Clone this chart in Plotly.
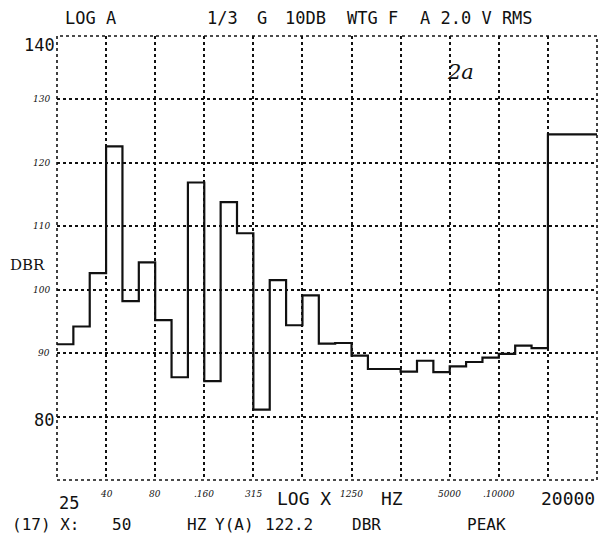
import plotly.graph_objects as go

# ---- data ----
band_labels = ["25", "31.5", "40", "50", "63", "80", "100", "125", "160", "200",
               "250", "315", "400", "500", "630", "800", "1000", "1250", "1600", "2000",
               "2500", "3150", "4000", "5000", "6300", "8000", "10000", "12500", "16000", "20000"]
band_levels = [91.4, 94.2, 102.6, 122.6, 98.2, 104.3, 95.2, 86.2, 116.9, 85.6,
               113.8, 108.9, 81.1, 101.5, 94.4, 99.1, 91.5, 91.6, 89.6, 87.5,
               87.5, 87.1, 88.8, 87.0, 87.9, 88.6, 89.3, 89.9, 91.2, 90.8]
overall_label = "A"
overall_level = 124.5

x_tick_text = ["40", "80", ".160", "315", "1250", "5000", ".10000"]
x_tick_bands = ["50", "100", "200", "400", "1600", "6300", "12500"]  # band that starts at each grid line
y_small_labels = ["130", "120", "110", "100", "90"]
y_small_values = [130, 120, 110, 100, 90]

W, H = 603, 540
L, R, T, B = 57, 597, 36, 480
BLACK = "#111111"
MONO = "DejaVu Sans Mono"


def px(xp):
    return (xp - L) / (R - L)


def py(yp):
    return (B - yp) / (B - T)


# step trace: each band occupies [i, i+1]; overall level occupies the last 3 slots
n = len(band_levels)
xs = list(range(n)) + [n, n + 3]
ys = band_levels + [overall_level, overall_level]

fig = go.Figure()
fig.add_trace(go.Scatter(x=xs, y=ys, mode="lines", line=dict(shape="hv", color=BLACK, width=2.2),
                         hoverinfo="skip", showlegend=False))

ann = []


def text(x, y, s, size=18, xanchor="center", yanchor="middle", xref="paper", yref="paper",
         family=MONO, color=BLACK):
    ann.append(dict(x=x, y=y, xref=xref, yref=yref, text=s, showarrow=False,
                    xanchor=xanchor, yanchor=yanchor,
                    font=dict(family=family, size=size, color=color)))


# header
text(px(63), py(18), "LOG A", xanchor="left", size=17)
text(px(205), py(18), "1/3", xanchor="left", size=17)
text(px(255), py(18), "G", xanchor="left", size=17)
text(px(283), py(18), "10DB", xanchor="left", size=17)
text(px(345), py(18), "WTG F", xanchor="left", size=17)
text(px(418), py(18), "A 2.0 V RMS", xanchor="left", size=17)

# y axis labels
text(px(57), py(45), "140", xanchor="right", size=17)
text(px(56), py(420), "80", xanchor="right", size=17)
text(px(8), py(265), "DBR", xanchor="left", size=15, family="DejaVu Serif")
for lab, v in zip(y_small_labels, y_small_values):
    ann.append(dict(x=px(52), y=v, xref="paper", yref="y", text="<i>" + lab + "</i>",
                    showarrow=False, xanchor="right", yanchor="middle",
                    font=dict(family="DejaVu Serif", size=9, color=BLACK)))

# x axis labels
text(0, py(503), "25", xanchor="left", size=17)
for lab, b in zip(x_tick_text, x_tick_bands):
    ann.append(dict(x=band_labels.index(b), y=py(494), xref="x", yref="paper",
                    text="<i>" + lab + "</i>", showarrow=False, xanchor="center", yanchor="middle",
                    font=dict(family="DejaVu Serif", size=9, color=BLACK)))
text(px(304), py(499), "LOG X", size=18)
text(px(392), py(499), "HZ", size=18)
text(1, py(499), "20000", xanchor="right", size=18)

# bottom readout
yb = py(524)
text(px(10), yb, "(17) X:", xanchor="left", size=16)
text(px(110), yb, "50", xanchor="left", size=16)
text(px(185), yb, "HZ", xanchor="left", size=16)
text(px(213), yb, "Y(A)", xanchor="left", size=16)
text(px(263), yb, "122.2", xanchor="left", size=16)
text(px(350), yb, "DBR", xanchor="left", size=16)
text(px(465), yb, "PEAK", xanchor="left", size=16)

# handwritten mark
text(px(445), py(72), "<i>2a</i>", xanchor="left", size=21, family="DejaVu Serif")

shapes = [dict(type="rect", xref="paper", yref="paper", x0=0, x1=1, y0=0, y1=1,
               line=dict(color=BLACK, width=1.6, dash="dot"))]

fig.update_layout(
    width=W, height=H,
    margin=dict(l=L, r=W - R, t=T, b=H - B),
    paper_bgcolor="white", plot_bgcolor="white",
    annotations=ann, shapes=shapes,
    xaxis=dict(range=[0, n + 3], tick0=0, dtick=3, showgrid=True, gridcolor=BLACK,
               gridwidth=1.6, griddash="dot", zeroline=False, showticklabels=False,
               ticks="", showline=False, fixedrange=True),
    yaxis=dict(range=[70, 140], tick0=70, dtick=10, showgrid=True, gridcolor=BLACK,
               gridwidth=1.6, griddash="dot", zeroline=False, showticklabels=False,
               ticks="", showline=False, fixedrange=True),
)

fig.write_html("out.html")
